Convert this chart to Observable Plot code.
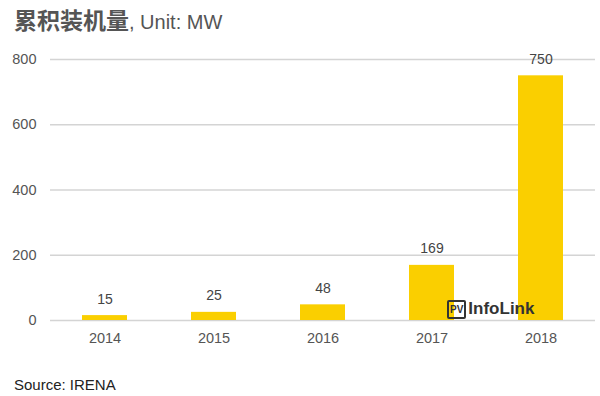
<!DOCTYPE html>
<html>
<head>
<meta charset="utf-8">
<script src="https://cdn.jsdelivr.net/npm/d3@7"></script>
<script src="https://cdn.jsdelivr.net/npm/@observablehq/plot@0.6"></script>
<style>
  body { margin: 0; background: #fff; font-family: "Liberation Sans", Arial, "Noto Sans CJK SC", sans-serif; }
  #wrap { position: relative; width: 600px; height: 396px; overflow: hidden; }
  #title { position: absolute; left: 14px; top: 2px; font-size: 20px; color: #555; white-space: nowrap; }
  #title b { font-family: "Noto Sans CJK SC", sans-serif; font-weight: 700; font-size: 23px; }
  #chart { position: absolute; left: 0; top: 40px; }
  #source { position: absolute; left: 14px; top: 376px; font-size: 15px; color: #222; }
  #logo { position: absolute; left: 447px; top: 299px; display: flex; align-items: center; font-size: 17px; font-weight: 700; color: #333; }
  #logo .pv { border: 2px solid #333; border-radius: 2px; font-size: 10px; padding: 2px 1px; margin-right: 2px; line-height: 11px; }
</style>
</head>
<body>
<div id="wrap">
  <div id="title"><b>累积装机量</b>, Unit: MW</div>
  <div id="chart"></div>
  <div id="logo"><span class="pv">PV</span><span>InfoLink</span></div>
  <div id="source">Source: IRENA</div>
</div>
<script>
const years = ["2014", "2015", "2016", "2017", "2018"];
const capacity = [15, 25, 48, 169, 750];
const yTicks = [0, 200, 400, 600, 800];

const data = years.map((y, i) => ({year: y, value: capacity[i]}));

const chart = Plot.plot({
  width: 600,
  height: 320,
  marginTop: 19,
  marginBottom: 40,
  marginLeft: 50,
  marginRight: 5,
  style: {fontFamily: "Liberation Sans, Arial, sans-serif", fontSize: "14px", color: "#555", background: "transparent"},
  x: {domain: years, paddingInner: 0.59, paddingOuter: 0.295, label: null},
  y: {domain: [0, 800], ticks: yTicks, label: null},
  marks: [
    Plot.gridY(yTicks, {stroke: "#d4d4d4", strokeOpacity: 1, strokeWidth: 1.5}),
    Plot.barY(data, {x: "year", y: "value", fill: "#FACF00"}),
    Plot.text(data, {x: "year", y: "value", text: d => String(d.value), lineAnchor: "bottom", dy: -12, fill: "#444", fontSize: 14}),
    Plot.axisY({ticks: yTicks, tickSize: 0, tickPadding: 14, fontSize: 14.5, fill: "#555"}),
    Plot.axisX({tickSize: 0, tickPadding: 12, fontSize: 14.5, fill: "#555"})
  ]
});
document.getElementById("chart").appendChild(chart);
</script>
</body>
</html>
